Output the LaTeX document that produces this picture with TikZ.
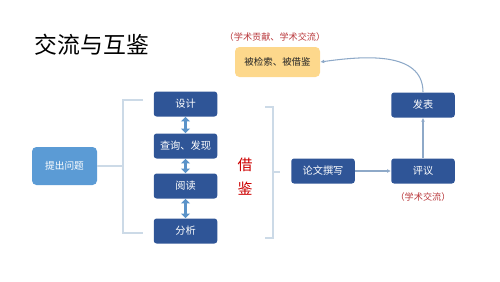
\documentclass[tikz,border=0pt]{standalone}
\usepackage{fontspec}
\setmainfont{Noto Sans CJK SC}
\usepackage{xcolor}
\usepackage{tikz}
\usetikzlibrary{arrows.meta}
\definecolor{darkbox}{HTML}{2F5597}
\definecolor{lightbox}{HTML}{5B9BD5}
\definecolor{citebox}{HTML}{FDD88C}
\definecolor{notered}{HTML}{B8363A}
\definecolor{bracketline}{HTML}{CCDAE7}
\definecolor{flowline}{HTML}{8EA9C8}
\definecolor{dblarrow}{HTML}{5B93C9}

\begin{document}
\begin{tikzpicture}[
    >=Latex,
    font=\fontsize{5.8}{6.5}\selectfont,
    step box/.style={
        rectangle,
        rounded corners=1.6pt,
        fill=darkbox,
        text=white,
        align=center,
        minimum height=0.50cm,
        minimum width=1.27cm,
        inner sep=1pt
    },
    note/.style={
        text=notered,
        inner sep=0pt,
        font=\fontsize{5.2}{6}\selectfont
    },
    bracket/.style={
        draw=bracketline,
        line width=0.6pt
    },
    flow/.style={
        draw=flowline,
        line width=0.6pt,
        -{Latex[length=2.2pt,width=2.2pt]}
    },
    swap/.style={
        draw=dblarrow,
        line width=1.7pt,
        {Triangle[length=2.6pt,width=5pt]}-{Triangle[length=2.6pt,width=5pt]}
    }
]

\useasboundingbox (0,0) rectangle (10,5.62);

\node[inner sep=0pt, font=\fontsize{13}{15}\selectfont] (title) at (1.84,4.72)
{交流与互鉴};

\node[note] (citeNote) at (5.50,4.88)
{（学术贡献、学术交流）};

\node[step box, fill=citebox, text=black!85, minimum width=1.70cm,
      minimum height=0.60cm, rounded corners=2.5pt,
      font=\fontsize{5.4}{6}\selectfont] (cited) at (5.55,4.38)
{被检索、被借鉴};

\node[step box, fill=lightbox, minimum width=1.30cm,
      minimum height=0.76cm, rounded corners=2.5pt,
      font=\fontsize{5.5}{6}\selectfont] (ask) at (1.29,2.30)
{提出问题};

\node[step box] (design) at (3.71,3.54)
{设计};

\node[step box] (query) at (3.71,2.70)
{查询、发现};

\node[step box] (read) at (3.71,1.90)
{阅读};

\node[step box] (analyze) at (3.71,1.00)
{分析};

\node[note, font=\fontsize{8.5}{10}\selectfont, text=red!80!black] (jie) at (4.90,2.32)
{借};

\node[note, font=\fontsize{8.5}{10}\selectfont, text=red!80!black] (jian) at (4.90,1.84)
{鉴};

\node[step box] (write) at (6.46,2.20)
{论文撰写};

\node[step box] (review) at (8.46,2.20)
{评议};

\node[step box] (publish) at (8.46,3.52)
{发表};

\node[note] (reviewNote) at (8.46,1.68)
{（学术交流）};

% left bracket
\coordinate (leftMid) at (2.46,2.30);
\coordinate (leftTop) at (2.46,3.62);
\coordinate (leftBot) at (2.46,0.96);
\coordinate (leftTopEnd) at (2.86,3.62);
\coordinate (leftBotEnd) at (2.86,0.96);

\draw[bracket]
(ask.east) -- (leftMid);

\draw[bracket]
(leftTopEnd) -- (leftTop) -- (leftBot) -- (leftBotEnd);

% right bracket
\coordinate (rightMid) at (5.46,2.18);
\coordinate (rightTop) at (5.46,3.48);
\coordinate (rightBot) at (5.46,0.86);
\coordinate (rightTopEnd) at (5.30,3.48);
\coordinate (rightBotEnd) at (5.30,0.86);
\coordinate (rightTick) at (5.60,2.18);

\draw[bracket]
(rightTopEnd) -- (rightTop) -- (rightBot) -- (rightBotEnd);

\draw[bracket]
(rightMid) -- (rightTick);

\draw[swap]
(design.south) -- (query.north);

\draw[swap]
(query.south) -- (read.north);

\draw[swap]
(read.south) -- (analyze.north);

\draw[flow]
(write) -- (review);

\draw[flow]
(review) -- (publish);

\draw[flow]
(publish.north) to[out=90, in=8] (cited.east);

\end{tikzpicture}
\end{document}
